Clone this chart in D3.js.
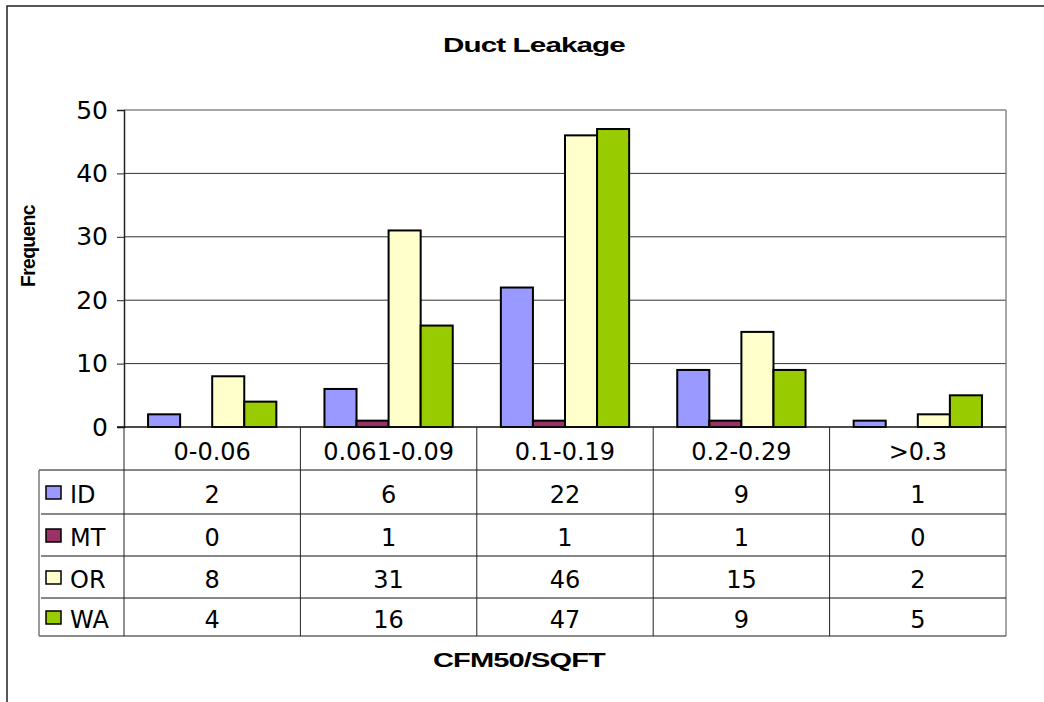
<!DOCTYPE html>
<html>
<head>
<meta charset="utf-8">
<script src="https://cdn.jsdelivr.net/npm/d3@7"></script>
<style>
  body { margin: 0; background: #fff; }
  text { font-family: "DejaVu Sans", sans-serif; fill: #000; }
  .ttl { font-family: "Liberation Sans", Arial, sans-serif; font-weight: bold; }
</style>
</head>
<body>
<div id="chart-area"></div>
<script>
var categories = ["0-0.06", "0.061-0.09", "0.1-0.19", "0.2-0.29", ">0.3"]
var seriesNames = ["ID", "MT", "OR", "WA"]
var ID = [2, 6, 22, 9, 1]
var MT = [0, 1, 1, 1, 0]
var OR = [8, 31, 46, 15, 2]
var WA = [4, 16, 47, 9, 5]
var yTicks = [0, 10, 20, 30, 40, 50]
var colors = ["#9999FF", "#993366", "#FFFFCC", "#99CC00"]

var seriesValues = [ID, MT, OR, WA]

var svgWidth = 1044, svgHeight = 702
var plot = { left: 124, right: 1006, top: 110, bottom: 427 }
var tableLeft = 39
var rowEdges = [427, 470, 514, 556, 598, 636]

var svg = d3.select("#chart-area").append("svg")
    .attr("width", svgWidth)
    .attr("height", svgHeight)

// outer chart border
svg.append("rect")
    .attr("x", 7).attr("y", 6)
    .attr("width", 1060).attr("height", 720)
    .attr("fill", "#fff")
    .attr("stroke", "#222")
    .attr("stroke-width", 1.5)

var yScale = d3.scaleLinear()
    .domain([0, 50])
    .range([plot.bottom, plot.top])

var xScale = d3.scaleBand()
    .domain(categories)
    .range([plot.left, plot.right])

var innerScale = d3.scaleBand()
    .domain(seriesNames)
    .range([0, xScale.bandwidth()])
    .paddingInner(0)
    .paddingOuter(0.75)

// gridlines
svg.append("g").selectAll("line")
    .data(yTicks.filter(d => d > 0))
    .enter().append("line")
    .attr("x1", plot.left).attr("x2", plot.right)
    .attr("y1", d => yScale(d)).attr("y2", d => yScale(d))
    .attr("stroke", d => d == 50 ? "#888" : "#333")
    .attr("stroke-width", d => d == 50 ? 1.5 : 1)

// right border of the plot
svg.append("line")
    .attr("x1", plot.right).attr("x2", plot.right)
    .attr("y1", plot.top).attr("y2", rowEdges[5])
    .attr("stroke", "#888").attr("stroke-width", 1.5)

// left axis
var leftAxis = d3.axisLeft(yScale)
    .tickValues(yTicks)
    .tickSize(7)
    .tickPadding(9)

var yAxis = svg.append("g")
    .attr("transform", `translate(${plot.left},0)`)
    .call(leftAxis)
yAxis.select(".domain").attr("stroke", "#222").attr("stroke-width", 1.5)
yAxis.selectAll(".tick line").attr("stroke", "#222")
yAxis.selectAll("text")
    .style("font-family", "DejaVu Sans")
    .attr("font-size", 25)
    .attr("fill", "#000")

// bars
var barData = []
seriesNames.forEach((s, i) => {
    categories.forEach((c, j) => {
        barData.push({ series: s, cat: c, value: seriesValues[i][j], color: colors[i] })
    })
})

svg.append("g").selectAll(".bar")
    .data(barData.filter(d => d.value > 0))
    .enter().append("rect")
    .attr("class", "bar")
    .attr("x", d => xScale(d.cat) + innerScale(d.series))
    .attr("width", innerScale.bandwidth())
    .attr("y", d => yScale(d.value))
    .attr("height", d => plot.bottom - yScale(d.value))
    .attr("fill", d => d.color)
    .attr("stroke", "#000")
    .attr("stroke-width", 2)

// baseline
svg.append("line")
    .attr("x1", plot.left - 7).attr("x2", plot.right)
    .attr("y1", plot.bottom).attr("y2", plot.bottom)
    .attr("stroke", "#111").attr("stroke-width", 1.5)

// data table
var table = svg.append("g")

table.selectAll(".hline")
    .data(rowEdges.slice(1))
    .enter().append("line")
    .attr("class", "hline")
    .attr("x1", (d, i) => i == 0 || i == 4 ? tableLeft : tableLeft + 2)
    .attr("x2", plot.right)
    .attr("y1", d => d).attr("y2", d => d)
    .attr("stroke", (d, i) => i == 4 ? "#666" : "#111")
    .attr("stroke-width", (d, i) => i == 4 ? 1.5 : 1)

table.append("line")
    .attr("x1", tableLeft).attr("x2", tableLeft)
    .attr("y1", rowEdges[1]).attr("y2", rowEdges[5])
    .attr("stroke", "#777").attr("stroke-width", 1.5)

table.selectAll(".vline")
    .data(categories)
    .enter().append("line")
    .attr("class", "vline")
    .attr("x1", d => xScale(d)).attr("x2", d => xScale(d))
    .attr("y1", rowEdges[0]).attr("y2", rowEdges[5])
    .attr("stroke", "#222").attr("stroke-width", 1)

// category labels
table.selectAll(".cat")
    .data(categories)
    .enter().append("text")
    .attr("class", "cat")
    .attr("x", d => xScale(d) + xScale.bandwidth() / 2)
    .attr("y", (rowEdges[0] + rowEdges[1]) / 2 + 3)
    .attr("text-anchor", "middle")
    .attr("dominant-baseline", "central")
    .attr("font-size", 24)
    .text(d => d)

// legend keys + values
seriesNames.forEach((s, i) => {
    var cy = (rowEdges[i + 1] + rowEdges[i + 2]) / 2
    table.append("rect")
        .attr("x", 46).attr("y", cy - 6)
        .attr("width", 15).attr("height", 13)
        .attr("fill", colors[i])
        .attr("stroke", "#000")
        .attr("stroke-width", 1.5)
    table.append("text")
        .attr("x", 70).attr("y", cy + 3)
        .attr("dominant-baseline", "central")
        .attr("font-size", 24)
        .text(s)
    table.selectAll(".val-" + s)
        .data(seriesValues[i])
        .enter().append("text")
        .attr("x", (d, j) => xScale(categories[j]) + xScale.bandwidth() / 2)
        .attr("y", cy + 3)
        .attr("text-anchor", "middle")
        .attr("dominant-baseline", "central")
        .attr("font-size", 24)
        .text(d => d)
})

// titles, stretched along their run like the original export
function stretchedTitle(label, x, y, width, angle) {
    var t = svg.append("text")
        .attr("class", "ttl")
        .attr("font-size", 20)
        .attr("letter-spacing", -0.6)
        .text(label)
    var w = t.node().getComputedTextLength()
    t.attr("transform", `translate(${x},${y}) rotate(${angle}) scale(${width / w},1)`)
    return t
}

stretchedTitle("Duct Leakage", 443, 52, 182, 0)
stretchedTitle("CFM50/SQFT", 433, 667, 172, 0)
stretchedTitle("Frequenc", 35, 287, 82, -90)
</script>
</body>
</html>
